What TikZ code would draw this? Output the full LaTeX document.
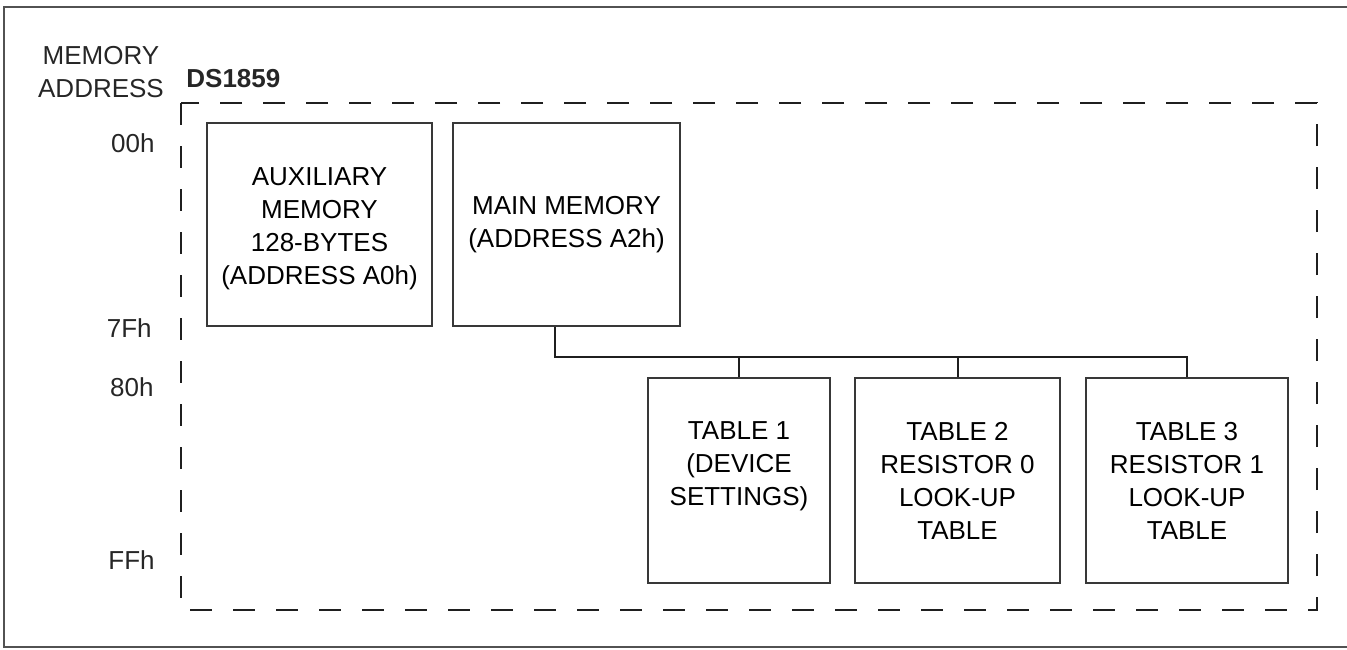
\documentclass[tikz,border=0pt]{standalone}
\usepackage{fontspec}
\setmainfont{Liberation Sans}
\begin{document}
\begin{tikzpicture}[x=0.5pt,y=-0.5pt,
  txt/.style={font=\fontsize{13}{16.5}\selectfont},
  box/.style={txt, draw=black!78, line width=1.4pt, align=center, inner sep=0pt},
  lbl/.style={txt, inner sep=0pt, text=black!85},
  conn/.style={line width=1pt, draw=black!88},
  frame/.style={line width=1.3pt, draw=black!68},
  region/.style={line width=1.1pt, draw=black!88, dash pattern=on 11pt off 10.5pt}]
\useasboundingbox (0,0) rectangle (1347,649);
\draw[frame] (1347,7) -- (4,7) -- (4,647) -- (1347,647);
\draw[region] (181,103) rectangle (1317,610);

\node[lbl, align=center] (ma) at (101,72) {MEMORY\\ADDRESS};
\node[lbl, anchor=west, font=\fontsize{13}{16.5}\selectfont\bfseries] (ds) at (186,79) {DS1859};
\node[lbl, anchor=east] (a00) at (155,143) {00h};
\node[lbl, anchor=east] (a7f) at (152,328) {7Fh};
\node[lbl, anchor=east] (a80) at (154,387) {80h};
\node[lbl, anchor=east] (aff) at (155,560) {FFh};

\node[box, minimum width=112.5pt, minimum height=101.5pt] (aux) at (319.5,224.5)
  {\rule{0pt}{2.5pt}\\[-6pt]AUXILIARY\\MEMORY\\128-BYTES\\(ADDRESS A0h)};
\node[box, minimum width=113.5pt, minimum height=101.5pt] (main) at (566.5,224.5)
  {MAIN MEMORY\\(ADDRESS A2h)};
\node[box, minimum width=91pt, minimum height=102.5pt] (t1) at (739,480.5)
  {TABLE 1\\(DEVICE\\SETTINGS)\\\mbox{}};
\node[box, minimum width=102.5pt, minimum height=102.5pt] (t2) at (957.5,480.5)
  {TABLE 2\\RESISTOR 0\\LOOK-UP\\TABLE};
\node[box, minimum width=101pt, minimum height=102.5pt] (t3) at (1187,480.5)
  {TABLE 3\\RESISTOR 1\\LOOK-UP\\TABLE};

\coordinate (bus) at (555,357);
\draw[conn] (main.south -| bus) -- (bus) -| (t3.north);
\draw[conn] (bus -| t1.north) -- (t1.north);
\draw[conn] (bus -| t2.north) -- (t2.north);
\end{tikzpicture}
\end{document}
